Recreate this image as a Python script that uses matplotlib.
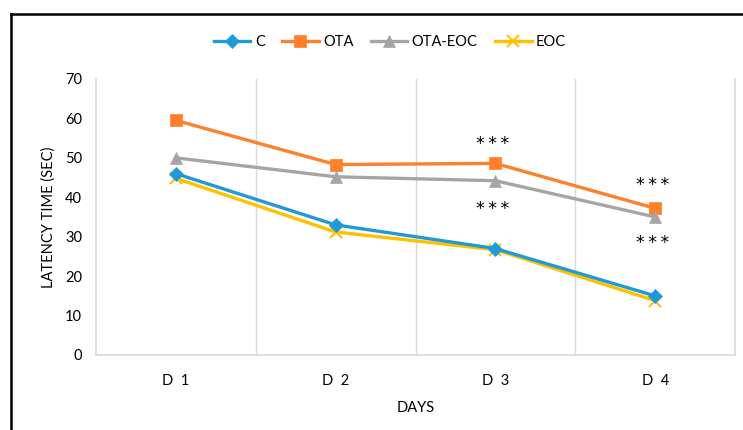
import matplotlib
matplotlib.use("Agg")
import matplotlib.pyplot as plt
from matplotlib.lines import Line2D

days = ["D  1", "D  2", "D  3", "D  4"]
c_vals = [46, 33, 27, 15]
ota_vals = [59.5, 48.3, 48.6, 37.2]
ota_eoc_vals = [50, 45.2, 44.2, 35]
eoc_vals = [44.8, 31.2, 26.7, 13.8]
yticks = [0, 10, 20, 30, 40, 50, 60, 70]

plt.rcParams['font.family'] = ['Lato', 'DejaVu Sans']

fig = plt.figure(figsize=(7.43, 4.30), dpi=100)
ax = fig.add_axes([96/743, 75/430, (735-96)/743, (355-79)/430])

x = list(range(len(days)))
series = [
    ("C", c_vals, "#1F9AD6", "D", 7),
    ("OTA", ota_vals, "#FF7F2A", "s", 8),
    ("OTA-EOC", ota_eoc_vals, "#A5A5A5", "^", 8),
    ("EOC", eoc_vals, "#FFC000", "x", 8),
]
handles = []
for name, vals, col, mk, ms in series:
    h, = ax.plot(x, vals, color=col, lw=2.4, marker=mk, markersize=ms,
                 markeredgewidth=1.5 if mk == "x" else 0.5, markeredgecolor=col,
                 markerfacecolor=col, label=name, zorder=3 if name != "EOC" else 2)
    handles.append(h)

ax.set_xlim(-0.5, 3.5)
ax.set_ylim(0, 70)
ax.set_yticks(yticks)
ax.set_xticks(x)
ax.set_xticklabels(days)
ax.tick_params(axis='both', length=0, labelsize=10.5, colors='black', pad=10)
ax.tick_params(axis='x', pad=14)
for b in [0.5, 1.5, 2.5]:
    ax.axvline(b, color='#D9D9D9', lw=1, zorder=0)
for s in ['left', 'right', 'bottom']:
    ax.spines[s].set_color('#D9D9D9')
    ax.spines[s].set_linewidth(1.2)
ax.spines['top'].set_visible(False)

ax.set_ylabel("LATENCY TIME (SEC)", fontsize=10.5, labelpad=7)
ax.set_xlabel("DAYS", fontsize=10.5, labelpad=9)

# significance markers
sig = [(2, ota_vals[2], 16), (2, ota_eoc_vals[2], -18), (3, ota_vals[3], 19), (3, ota_eoc_vals[3], -17)]
for xi, yi, off in sig:
    ax.annotate("*\u2009*\u2009*", (xi, yi), xytext=(-2, off - 2), textcoords='offset points',
                ha='center', va='center', fontsize=12.5, fontfamily='DejaVu Sans')

fig.legend(handles=handles, loc='center', bbox_to_anchor=(0.525, 0.902), ncol=4,
           frameon=False, fontsize=10.5, handlelength=2.5, columnspacing=1.2, handletextpad=0.3)

# outer black frame (partially visible)
fx = 11/743
fy = 1 - 14/430
fig.add_artist(Line2D([fx, fx], [0, fy], transform=fig.transFigure, color='black', lw=1.8))
fig.add_artist(Line2D([fx, 1], [fy, fy], transform=fig.transFigure, color='black', lw=1.8))

fig.savefig("out.png", dpi=100)
